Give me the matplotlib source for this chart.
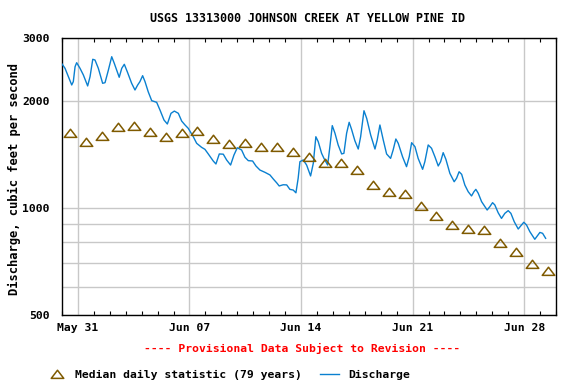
import matplotlib
matplotlib.use("Agg")
import matplotlib.pyplot as plt
import matplotlib.dates as mdates
from matplotlib.path import Path
from matplotlib.lines import Line2D
from matplotlib.ticker import FixedLocator, NullFormatter, FixedFormatter
from datetime import datetime, timedelta

# ---- data ----
start = datetime(2024, 5, 30)
# discharge: time in days since May 30 00:00, value in cfs
q_days = [0.00, 0.19, 0.40, 0.61, 0.71, 0.82, 0.92, 1.13, 1.34, 1.61,
          1.76, 1.93, 2.07, 2.28, 2.55, 2.70, 2.90, 3.12, 3.28, 3.59,
          3.75, 3.91, 4.12, 4.37, 4.58, 4.75, 4.89, 5.06, 5.21, 5.41,
          5.63, 5.94, 6.15, 6.40, 6.61, 6.84, 7.05, 7.30, 7.51, 7.72,
          7.92, 8.24, 8.45, 8.76, 8.97, 9.18, 9.49, 9.66, 9.87, 10.12,
          10.33, 10.58, 10.79, 11.00, 11.27, 11.48, 11.69, 11.96, 12.17, 12.42,
          12.74, 13.05, 13.26, 13.47, 13.63, 13.88, 14.10, 14.30, 14.51, 14.68,
          14.82, 14.93, 15.14, 15.35, 15.60, 15.77, 15.93, 16.08, 16.29, 16.44,
          16.67, 16.81, 16.96, 17.13, 17.33, 17.55, 17.69, 17.86, 18.02, 18.17,
          18.38, 18.59, 18.74, 18.95, 19.12, 19.37, 19.64, 19.78, 19.95, 20.16,
          20.37, 20.62, 20.78, 20.95, 21.10, 21.37, 21.62, 21.79, 21.94, 22.15,
          22.35, 22.63, 22.77, 22.98, 23.19, 23.40, 23.61, 23.76, 23.92, 24.09,
          24.34, 24.61, 24.76, 24.92, 25.08, 25.28, 25.49, 25.70, 25.85, 25.97,
          26.12, 26.33, 26.68, 26.85, 27.02, 27.16, 27.37, 27.58, 27.79, 28.00,
          28.17, 28.38, 28.63, 28.78, 28.98, 29.15, 29.36, 29.67, 29.82, 29.99,
          30.16, 30.35]
q_vals = [2536, 2466, 2336, 2214, 2262, 2492, 2557, 2466, 2362, 2200,
          2336, 2614, 2602, 2466, 2238, 2247, 2428, 2658, 2547, 2327,
          2466, 2531, 2397, 2238, 2143, 2214, 2262, 2351, 2262, 2119,
          2000, 1979, 1882, 1765, 1720, 1843, 1870, 1843, 1753, 1709,
          1673, 1584, 1518, 1479, 1460, 1417, 1354, 1328, 1417, 1415,
          1363, 1319, 1407, 1475, 1454, 1387, 1357, 1354, 1311, 1277,
          1258, 1237, 1205, 1176, 1152, 1161, 1160, 1127, 1122, 1102,
          1211, 1348, 1363, 1319, 1229, 1334, 1584, 1534, 1423, 1377,
          1319, 1485, 1702, 1620, 1502, 1417, 1423, 1620, 1739, 1662,
          1543, 1463, 1584, 1874, 1784, 1602, 1463, 1551, 1709, 1551,
          1417, 1377, 1454, 1561, 1518, 1392, 1305, 1392, 1524, 1485,
          1377, 1283, 1348, 1502, 1470, 1392, 1311, 1348, 1429, 1369,
          1250, 1184, 1211, 1263, 1242, 1159, 1110, 1080, 1110, 1127,
          1099, 1041, 986, 1008, 1034, 1019, 969, 934, 965, 982,
          965, 914, 872, 889, 911, 895, 857, 816, 833, 853,
          848, 821]

# median daily statistic, one per day (May 30 .. Jun 29, plotted at noon)
median_vals = [1626, 1534, 1594, 1691, 1702, 1637, 1581, 1626, 1644, 1561,
               1514, 1524, 1485, 1485, 1438, 1392, 1339, 1334, 1275, 1161,
               1110, 1096, 1014, 950, 897, 874, 867, 798, 753, 694, 666]

y_ticks = [500, 1000, 2000, 3000]
y_tick_labels = ["500", "1000", "2000", "3000"]
y_minor = [600, 700, 800, 900]
x_tick_labels = ["May 31", "Jun 07", "Jun 14", "Jun 21", "Jun 28"]

# ---- figure ----
plt.rcParams['font.family'] = ['DejaVu Sans Mono']
plt.rcParams['font.weight'] = 'bold'

fig = plt.figure(figsize=(5.76, 3.84), dpi=100)
ax = fig.add_axes([62/576, 1 - 315/384, 494/576, 277/384])

q_t = [start + timedelta(days=d) for d in q_days]
m_t = [start + timedelta(days=i, hours=12) for i in range(len(median_vals))]

tri = Path([(-1, -0.62), (1, -0.62), (0, 0.68), (-1, -0.62)],
           [Path.MOVETO, Path.LINETO, Path.LINETO, Path.CLOSEPOLY])

ax.plot(q_t, q_vals, color='#0a80d0', lw=1.0, zorder=3)
ax.plot(m_t, median_vals, linestyle='none', marker=tri, markersize=9,
        markerfacecolor='none', markeredgecolor='#7f5a00', markeredgewidth=1.1,
        zorder=4)

ax.set_yscale('log')
ax.set_ylim(500, 3000)
ax.yaxis.set_major_locator(FixedLocator(y_ticks))
ax.yaxis.set_major_formatter(FixedFormatter(y_tick_labels))
ax.yaxis.set_minor_locator(FixedLocator(y_minor))
ax.yaxis.set_minor_formatter(NullFormatter())
ax.tick_params(axis='y', which='both', length=0, pad=9, labelsize=8.2)

ax.set_xlim(start, start + timedelta(days=31))
major_x = [start + timedelta(days=1 + 7 * i) for i in range(len(x_tick_labels))]
ax.xaxis.set_major_locator(FixedLocator(mdates.date2num(major_x)))
ax.xaxis.set_major_formatter(FixedFormatter(x_tick_labels))
ax.xaxis.set_minor_locator(mdates.DayLocator())
ax.tick_params(axis='x', which='major', length=0, pad=6, labelsize=8.2)
ax.tick_params(axis='x', which='minor', direction='in', length=3, width=0.8,
               top=True, bottom=True, color='black')

ax.grid(True, which='major', color='#c8c8c8', lw=1.0)
ax.grid(True, which='minor', axis='y', color='#c8c8c8', lw=1.0)
ax.set_axisbelow(True)
for s in ax.spines.values():
    s.set_linewidth(1.0)
    s.set_color('black')

for lbl in ax.get_xticklabels() + ax.get_yticklabels():
    lbl.set_fontweight('bold')

ax.set_ylabel("Discharge, cubic feet per second", fontsize=8.7,
              fontweight='bold')
ax.yaxis.set_label_coords(-0.083, 0.49)

fig.text(308/576, 1 - 18/384, "USGS 13313000 JOHNSON CREEK AT YELLOW PINE ID",
         ha='center', va='center', fontsize=8.4, fontweight='bold')
fig.text(302/576, 1 - 348/384, "---- Provisional Data Subject to Revision ----",
         ha='center', va='center', fontsize=8.2, fontweight='bold', color='#ff0000')

h1 = Line2D([], [], linestyle='none', marker=tri, markersize=9,
            markerfacecolor='none', markeredgecolor='#7f5a00', markeredgewidth=1.1)
h2 = Line2D([], [], color='#0a80d0', lw=1.0)
leg = fig.legend([h1, h2], ["Median daily statistic (79 years)", "Discharge"],
                 loc='center left', bbox_to_anchor=(48/576, 1 - 375/384),
                 ncol=2, frameon=False, fontsize=8.2, handlelength=1.6,
                 handletextpad=0.8, columnspacing=1.6, borderpad=0, borderaxespad=0)
for t in leg.get_texts():
    t.set_fontweight('bold')

fig.savefig("out.png", dpi=100)
